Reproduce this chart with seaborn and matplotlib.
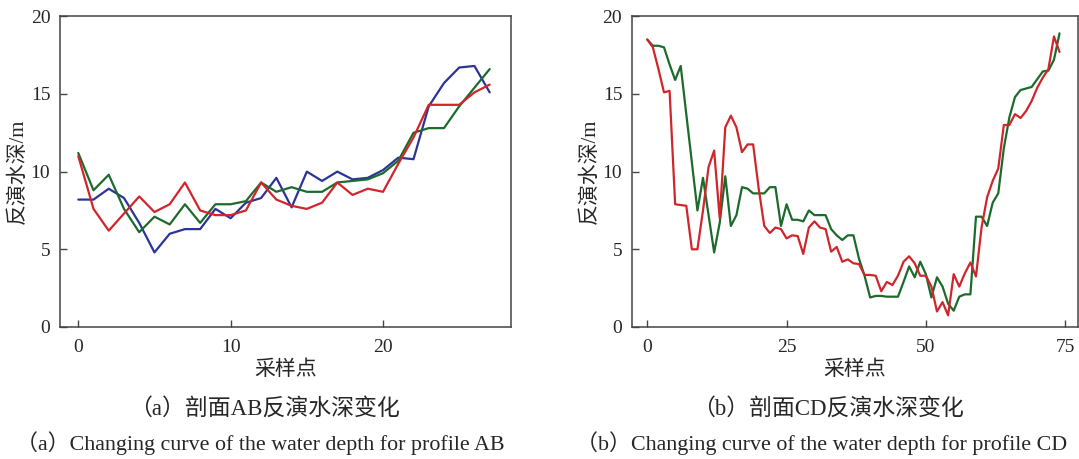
import numpy as np
import matplotlib
matplotlib.use("Agg")
import matplotlib.pyplot as plt
import seaborn as sns

# Profil AB : 28 points d'échantillonnage, trois courbes
ab_bleu = [8.2, 8.2, 8.9, 8.3, 6.7, 4.8, 6.0, 6.3, 6.3, 7.6, 7.0, 8.0, 8.3, 9.6,
           7.7, 10.0, 9.4, 10.0, 9.5, 9.6, 10.1, 10.9, 10.8, 14.2, 15.7, 16.7, 16.8, 15.1]
ab_vert = [11.2, 8.8, 9.8, 7.6, 6.1, 7.1, 6.6, 7.9, 6.7, 7.9, 7.9, 8.1, 9.3, 8.7,
           9.0, 8.7, 8.7, 9.3, 9.4, 9.5, 9.9, 10.7, 12.5, 12.8, 12.8, 14.2, 15.4, 16.6]
ab_rouge = [11.0, 7.6, 6.2, 7.3, 8.4, 7.4, 7.9, 9.3, 7.5, 7.2, 7.2, 7.5, 9.3, 8.2,
            7.8, 7.6, 8.0, 9.3, 8.5, 8.9, 8.7, 10.5, 12.2, 14.3, 14.3, 14.3, 15.1, 15.6]

# Profil CD : 75 points
cd_vert = [18.5, 18.1, 18.1, 18.0, 16.9, 15.9, 16.8, 13.7, 10.6, 7.5,
           9.6, 7.2, 4.8, 6.7, 9.7, 6.5, 7.2, 9.0, 8.9, 8.6,
           8.6, 8.6, 9.0, 9.0, 6.5, 7.9, 6.9, 6.9, 6.8, 7.5,
           7.2, 7.2, 7.2, 6.3, 5.9, 5.6, 5.9, 5.9, 4.4, 3.3,
           1.9, 2.0, 2.0, 1.95, 1.95, 1.95, 2.9, 3.9, 3.2, 4.2,
           3.4, 1.9, 3.2, 2.6, 1.5, 1.05, 1.95, 2.1, 2.1, 7.1,
           7.1, 6.5, 8.0, 8.6, 11.5, 13.5, 14.8, 15.25, 15.35, 15.45,
           15.95, 16.45, 16.5, 17.2, 18.9]
cd_rouge = [18.5, 18.0, 16.6, 15.1, 15.2, 7.9, 7.85, 7.8, 5.0, 5.0,
            7.5, 10.3, 11.35, 7.0, 12.85, 13.6, 12.85, 11.25, 11.75, 11.75,
            8.9, 6.5, 6.05, 6.4, 6.3, 5.7, 5.9, 5.85, 4.7, 6.4,
            6.8, 6.4, 6.3, 4.85, 5.15, 4.2, 4.35, 4.1, 4.05, 3.35,
            3.35, 3.3, 2.3, 2.9, 2.7, 3.3, 4.2, 4.55, 4.1, 3.3,
            3.3, 2.6, 1.0, 1.6, 0.75, 3.4, 2.6, 3.45, 4.15, 3.25,
            6.4, 8.35, 9.4, 10.2, 13.0, 13.0, 13.7, 13.45, 13.9, 14.55,
            15.4, 16.05, 16.6, 18.7, 17.7]

legendes = ["（a）剖面AB反演水深变化", "（b）剖面CD反演水深变化"]
legendes_en = ["（a）Changing curve of the water depth for profile AB",
               "（b）Changing curve of the water depth for profile CD"]

bleu, vert, rouge = "#2b3596", "#1d6b2c", "#cf262c"

sns.set_style("white")
plt.rcParams["font.family"] = ["Liberation Serif", "Noto Sans CJK SC"]
plt.rcParams["axes.edgecolor"] = "#444444"

fig = plt.figure(figsize=(10.79, 4.59), dpi=100)
ax1 = fig.add_axes([0.0556, 0.2876, 0.418, 0.677])
ax2 = fig.add_axes([0.5857, 0.2876, 0.4133, 0.677])

for serie, c in [(ab_bleu, bleu), (ab_vert, vert), (ab_rouge, rouge)]:
    sns.lineplot(x=np.arange(len(serie)), y=serie, color=c, linewidth=1.6, ax=ax1)
for serie, c in [(cd_vert, vert), (cd_rouge, rouge)]:
    sns.lineplot(x=np.arange(len(serie)), y=serie, color=c, linewidth=1.6, ax=ax2)

ax1.set_xlim(-1.2, 28.4)
ax1.set_xticks([0, 10, 20])
ax2.set_xlim(-2.75, 77.3)
ax2.set_xticks([0, 25, 50, 75])

for ax in (ax1, ax2):
    ax.set_ylim(0, 20)
    ax.set_yticks([0, 5, 10, 15, 20])
    ax.tick_params(direction="in", length=5, width=1, labelsize=14,
                   bottom=True, left=True, color="#444444")
    ax.tick_params(axis="x", pad=9)
    ax.tick_params(axis="y", pad=7)
    ax.set_xlabel("采样点", fontsize=15, labelpad=3)
    ax.set_ylabel("反演水深/m", fontsize=15, labelpad=2)
    for s in ax.spines.values():
        s.set_linewidth(1.1)

# Légendes sous les graphes (centres en pixels)
centres_cn = [264, 828]
centres_en = [260, 822]
for i in range(2):
    fig.text(centres_cn[i] / 1079, 1 - 409 / 459, legendes[i], ha="center", va="center", fontsize=16.5)
    fig.text(centres_en[i] / 1079, 1 - 443 / 459, legendes_en[i], ha="center", va="center", fontsize=15.8)

fig.savefig("out.png", dpi=100)
